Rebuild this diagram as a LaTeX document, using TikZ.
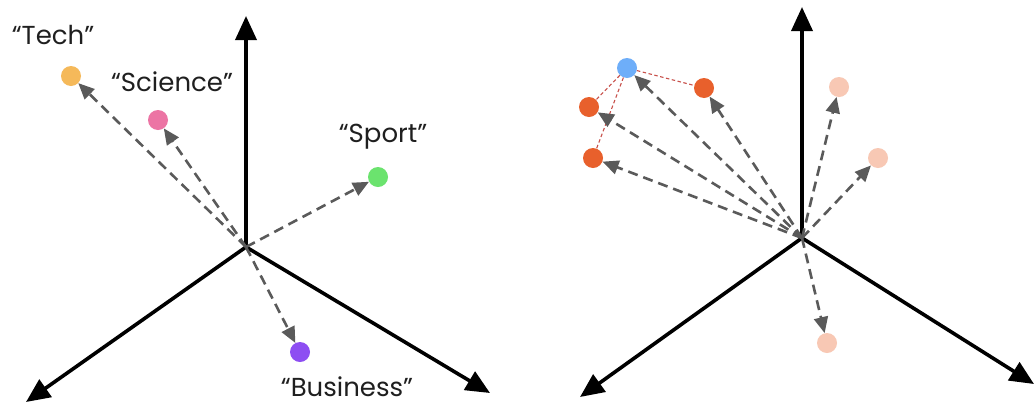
\documentclass[tikz,border=0pt]{standalone}
\usepackage{fontspec}
\setmainfont{Poppins}
\usetikzlibrary{arrows.meta}
\definecolor{ctech}{HTML}{F5B95A}
\definecolor{csci}{HTML}{EC74A4}
\definecolor{csport}{HTML}{6BE36E}
\definecolor{cbus}{HTML}{8D4EF2}
\definecolor{cblue}{HTML}{6EAEF9}
\definecolor{corange}{HTML}{E8602C}
\definecolor{cpeach}{HTML}{F8C8B4}
\definecolor{vecgray}{HTML}{5A5A5A}
\definecolor{cred}{HTML}{C8504A}
\begin{document}
\begin{tikzpicture}[x=1pt,y=-1pt,
  axis/.style={line width=3.6pt, -{Triangle[length=24pt,width=21pt]}},
  vec/.style={draw=vecgray, line width=2.6pt, dash pattern=on 10pt off 6pt, -{Triangle[length=16pt,width=14pt]}},
  link/.style={draw=cred, line width=1.1pt, dash pattern=on 3.5pt off 2.5pt},
  dot/.style={circle, inner sep=0pt, minimum size=20pt},
  lbl/.style={font=\fontsize{26}{30}\selectfont, text=black!88, inner sep=1pt}
]
\useasboundingbox (0,0) rectangle (1035,405);
\fill[white] (0,0) rectangle (1035,405);

% ---------- left panel ----------
\coordinate (o1) at (246,247);
\coordinate (u1) at (246,16);
\coordinate (l1) at (26,402);
\coordinate (r1) at (490,393);
\draw[axis] (o1) -- (u1);
\draw[axis] (o1) -- (l1);
\draw[axis] (o1) -- (r1);

\node[dot, fill=ctech] (tech) at (71,76) {};
\node[dot, fill=csci] (sci) at (158,120) {};
\node[dot, fill=csport] (sport) at (378,177) {};
\node[dot, fill=cbus] (bus) at (300,352) {};

\draw[vec] (o1) -- (tech);
\draw[vec] (o1) -- (sci);
\draw[vec] (o1) -- (sport);
\draw[vec] (o1) -- (bus);

\node[lbl] (ltech) at (53,35) {“Tech”};
\node[lbl] (lsci) at (172,82) {“Science”};
\node[lbl] (lsport) at (383,137) {“Sport”};
\node[lbl] (lbus) at (347,387) {“Business”};

% ---------- right panel ----------
\coordinate (o2) at (802,238);
\coordinate (u2) at (802,7);
\coordinate (l2) at (580,397);
\coordinate (r2) at (1034,384);
\draw[axis] (o2) -- (u2);
\draw[axis] (o2) -- (l2);
\draw[axis] (o2) -- (r2);

\node[dot, fill=cblue] (q) at (627,68) {};
\node[dot, fill=corange] (a1) at (704,88) {};
\node[dot, fill=corange] (a2) at (589,107) {};
\node[dot, fill=corange] (a3) at (593,158) {};
\node[dot, fill=cpeach] (p1) at (839,87) {};
\node[dot, fill=cpeach] (p2) at (878,158) {};
\node[dot, fill=cpeach] (p3) at (827,343) {};

\draw[link] (q) -- (a1);
\draw[link] (q) -- (a2);
\draw[link] (q) -- (a3);

\draw[vec] (o2) -- (q);
\draw[vec] (o2) -- (a1);
\draw[vec] (o2) -- (a2);
\draw[vec] (o2) -- (a3);
\draw[vec] (o2) -- (p1);
\draw[vec] (o2) -- (p2);
\draw[vec] (o2) -- (p3);
\end{tikzpicture}
\end{document}
